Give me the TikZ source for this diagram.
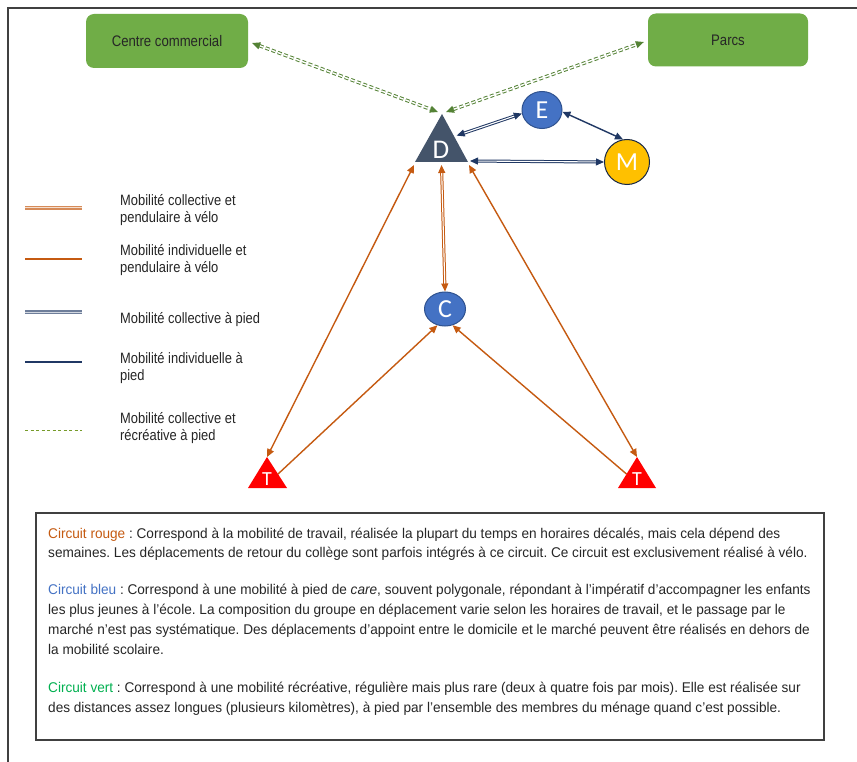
\documentclass[tikz,border=0pt]{standalone}
\usepackage{fontspec}
\setmainfont{Liberation Sans}
\newfontfamily\letterfont{Carlito}
\newfontfamily\narrowfont[FakeStretch=0.86]{Liberation Sans}
\newfontfamily\bodyfont[FakeStretch=0.965]{Liberation Sans}
\usetikzlibrary{arrows.meta,shapes.geometric,calc}
\definecolor{frameC}{HTML}{404040}
\definecolor{boxG}{HTML}{70AD47}
\definecolor{arrG}{HTML}{548235}
\definecolor{triD}{HTML}{44546A}
\definecolor{circB}{HTML}{4472C4}
\definecolor{circEdge}{HTML}{2F528F}
\definecolor{goldM}{HTML}{FFC000}
\definecolor{navyC}{HTML}{203864}
\definecolor{orangeC}{HTML}{C55A11}
\definecolor{redT}{HTML}{FF0000}
\definecolor{txtGreen}{HTML}{00B050}
\definecolor{txtBlue}{HTML}{4472C4}
\definecolor{txtGray}{HTML}{262626}
\tikzset{
  frameline/.style={draw=frameC, line width=2pt},
  gbox/.style={rectangle, rounded corners=8pt, fill=boxG, inner sep=0pt,
    font=\narrowfont\fontsize{15.3}{15.3}\selectfont, text=black!85},
  letter/.style={inner sep=0pt, text=white},
  bcirc/.style={ellipse, fill=circB, draw=circEdge, line width=1pt, inner sep=0pt,
    text=white, font=\letterfont\fontsize{26}{26}\selectfont},
  mcirc/.style={ellipse, fill=goldM, draw=navyC!70!black, line width=1pt, inner sep=0pt,
    text=white, font=\letterfont\fontsize{26}{26}\selectfont},
  tipstyle/.style={>={Triangle[length=8pt,width=7pt]}},
  gline/.style={tipstyle, draw=arrG, line width=1pt, double=white, double distance=1.4pt,
    dash pattern=on 4pt off 2.5pt},
  bdouble/.style={tipstyle, draw=navyC, line width=1pt, double=white, double distance=1.1pt},
  bsingle/.style={tipstyle, draw=navyC, line width=1.4pt},
  odouble/.style={tipstyle, draw=orangeC, line width=1pt, double=white, double distance=1.1pt},
  osingle/.style={tipstyle, draw=orangeC, line width=1.4pt},
  legtext/.style={anchor=west, align=left, inner sep=0pt, text=txtGray,
    font=\narrowfont\fontsize{15}{17.5}\selectfont},
  bodyline/.style={anchor=base west, inner sep=0pt, text=txtGray,
    font=\bodyfont\frenchspacing\fontsize{14.1}{14.1}\selectfont},
}
\begin{document}
\begin{tikzpicture}[x=1pt,y=-1pt]
\useasboundingbox (0,0) rectangle (857,762);
\fill[white] (0,0) rectangle (857,762);
\draw[frameline] (8,762) -- (8,8) -- (857,8);

% green boxes
\node[gbox, minimum width=162pt, minimum height=54pt] (CC) at (167,41) {Centre commercial};
\node[gbox, minimum width=160pt, minimum height=53pt] (PA) at (728,40) {Parcs};

% D triangle
\coordinate (Dtop) at (442,114);
\coordinate (Dbl) at (415,162);
\coordinate (Dbr) at (468,162);
% T triangles
\coordinate (TLtop) at (267,457);
\coordinate (TLbl) at (248,488);
\coordinate (TLbr) at (287,488);
\coordinate (TRtop) at (637,457);
\coordinate (TRbl) at (618,488);
\coordinate (TRbr) at (656,488);

% circles
\node[bcirc, minimum width=40pt, minimum height=37pt] (E) at (542,110) {E};
\node[mcirc, minimum width=45pt, minimum height=45pt] (M) at (627,162) {M};
\node[bcirc, minimum width=41pt, minimum height=34pt] (C) at (445,309) {C};

% green connectors
\draw[gline, <->] ($(CC.east)+(4,2)$) -- ($(Dtop)+(-4,-2)$);
\draw[gline, <->] ($(Dtop)+(4,-2)$) -- ($(PA.west)+(-4,2)$);

% blue connectors
\draw[bdouble, <->] ($(Dtop)!0.45!(Dbr)+(3,0)$) -- (E.190);
\draw[bsingle, <->] (E.-5) -- (M.100);
\draw[bdouble, <->] ($(Dbr)+(2,-1)$) -- (M.west);

% orange connectors
\draw[odouble, <->] ($(Dbl)!0.5!(Dbr)+(0,3)$) -- (C.north);
\draw[osingle, <->] ($(Dbl)+(-1,3)$) -- (TLtop);
\draw[osingle, <->] ($(Dbr)+(1,3)$) -- (TRtop);
\draw[osingle, ->] ($(TLtop)!0.55!(TLbr)$) -- (C.245);
\draw[osingle, ->] ($(TRtop)!0.55!(TRbl)$) -- (C.295);

% triangles drawn on top
\fill[triD] (Dtop) -- (Dbl) -- (Dbr) -- cycle;
\node[letter, font=\letterfont\fontsize{27}{27}\selectfont] (D) at (441,150) {D};
\fill[redT] (TLtop) -- (TLbl) -- (TLbr) -- cycle;
\fill[redT] (TRtop) -- (TRbl) -- (TRbr) -- cycle;
\node[letter, font=\letterfont\fontsize{20}{20}\selectfont] (TL) at (267,479) {T};
\node[letter, font=\letterfont\fontsize{20}{20}\selectfont] (TR) at (637,479) {T};

% legend
\draw[draw=orangeC!70, line width=1.3pt, double=white!80!orangeC, double distance=1pt] (25,208) -- (82,208);
\draw[draw=orangeC, line width=1.5pt] (25,259) -- (82,259);
\draw[draw=navyC!65, line width=1.3pt, double=white!80!navyC, double distance=1pt] (25,312) -- (82,312);
\draw[draw=navyC, line width=1.5pt] (25,362) -- (82,362);
\draw[draw=arrG!80!yellow, line width=0.8pt, double=white, double distance=0.9pt, dash pattern=on 3pt off 2.5pt] (25,431) -- (82,431);
\node[legtext] (L1) at (120,210) {Mobilité collective et\\pendulaire à vélo};
\node[legtext] (L2) at (120,260) {Mobilité individuelle et\\pendulaire à vélo};
\node[legtext] (L3) at (120,320) {Mobilité collective à pied};
\node[legtext] (L4) at (120,368) {Mobilité individuelle à\\pied};
\node[legtext] (L5) at (120,428) {Mobilité collective et\\récréative à pied};

% text box
\node[draw=frameC, line width=1.2pt, minimum width=788pt, minimum height=227pt, inner sep=0pt] (TB) at (430,626.5) {};
\node[bodyline] (B1) at (48,538) {\textcolor{orangeC}{Circuit rouge} : Correspond à la mobilité de travail, réalisée la plupart du temps en horaires décalés, mais cela dépend des};
\node[bodyline] (B2) at (48,557) {semaines. Les déplacements de retour du collège sont parfois intégrés à ce circuit. Ce circuit est exclusivement réalisé à vélo.};
\node[bodyline] (B3) at (48,594) {\textcolor{txtBlue}{Circuit bleu} : Correspond à une mobilité à pied de \textit{care}, souvent polygonale, répondant à l’impératif d’accompagner les enfants};
\node[bodyline] (B4) at (48,614) {les plus jeunes à l’école. La composition du groupe en déplacement varie selon les horaires de travail, et le passage par le};
\node[bodyline] (B5) at (48,634) {marché n’est pas systématique. Des déplacements d’appoint entre le domicile et le marché peuvent être réalisés en dehors de};
\node[bodyline] (B6) at (48,654) {la mobilité scolaire.};
\node[bodyline] (B7) at (48,692) {\textcolor{txtGreen}{Circuit vert} : Correspond à une mobilité récréative, régulière mais plus rare (deux à quatre fois par mois). Elle est réalisée sur};
\node[bodyline] (B8) at (48,712) {des distances assez longues (plusieurs kilomètres), à pied par l’ensemble des membres du ménage quand c’est possible.};
\end{tikzpicture}
\end{document}
